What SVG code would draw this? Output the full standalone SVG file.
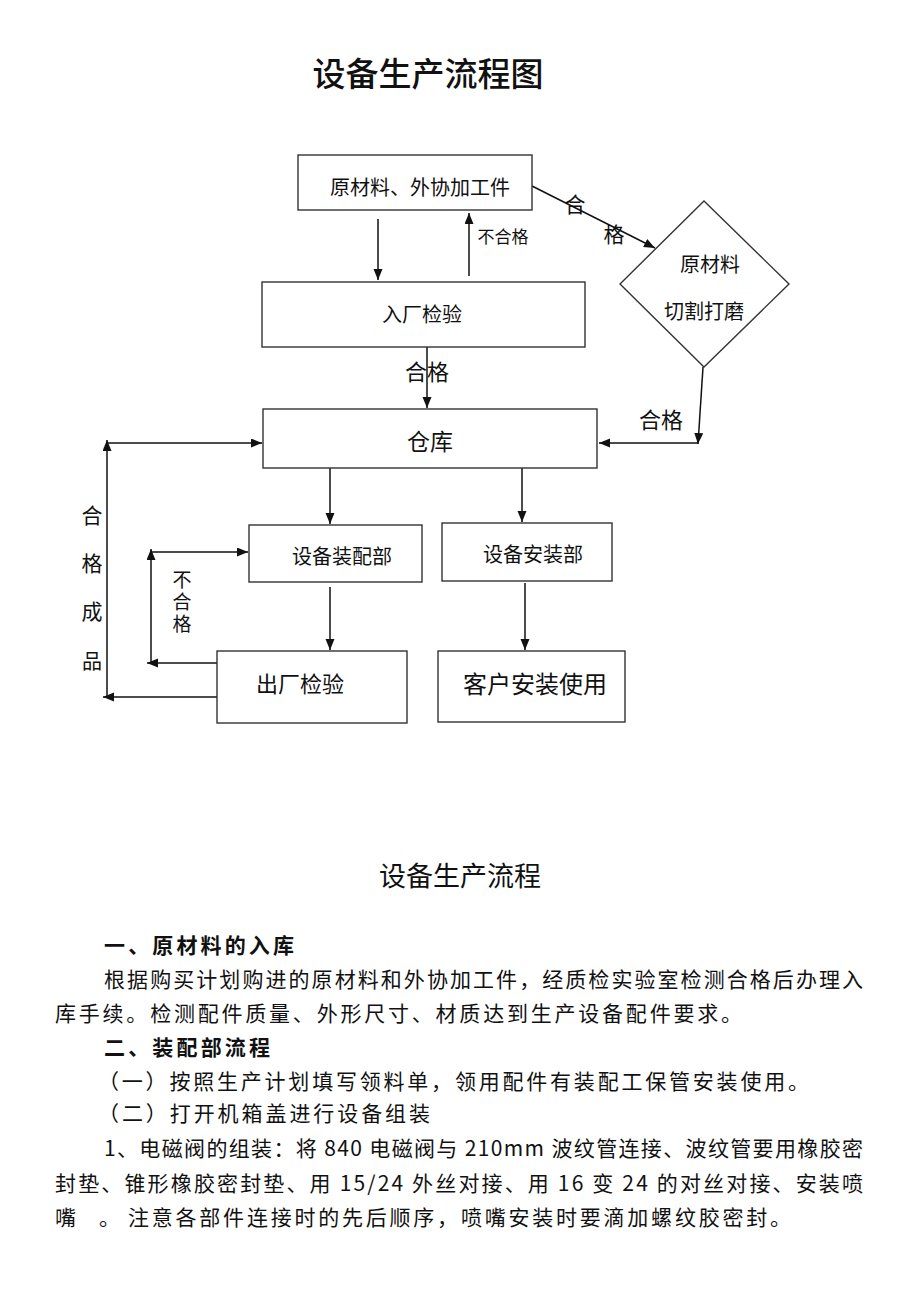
<svg xmlns="http://www.w3.org/2000/svg" width="920" height="1302" viewBox="0 0 920 1302">
<style>
.bg{fill:#fff}
.box{fill:#fff;stroke:#333;stroke-width:1.4}
.ln{fill:none;stroke:#111;stroke-width:1.5}
.t{font-family:"Noto Sans CJK SC","Liberation Sans",sans-serif;fill:#111;text-anchor:middle;dominant-baseline:central}
.v{font-family:"Noto Sans CJK SC","Liberation Sans",sans-serif;fill:#111;writing-mode:vertical-rl;text-anchor:start}
.b{font-family:"Noto Sans CJK SC","Liberation Serif",serif;fill:#111;font-size:21px;dominant-baseline:central}
.h{font-weight:bold}
</style>
<defs>
<marker id="ar" markerUnits="userSpaceOnUse" markerWidth="12" markerHeight="10" refX="11" refY="4.5" orient="auto">
<path d="M0,0 L11,4.5 L0,9 z" fill="#111"/>
</marker>
</defs>
<rect class="bg" x="0" y="0" width="920" height="1302"/>
<text class="t" x="428" y="72" font-size="33" font-weight="500">设备生产流程图</text>

<g id="connectors">
<line class="ln" x1="378" y1="219" x2="378" y2="280" marker-end="url(#ar)"/>
<line class="ln" x1="469" y1="276" x2="469" y2="213" marker-end="url(#ar)"/>
<line class="ln" x1="532" y1="186" x2="655" y2="248" marker-end="url(#ar)"/>
<line class="ln" x1="427" y1="347" x2="427" y2="408" marker-end="url(#ar)"/>
<line class="ln" x1="703" y1="367" x2="698" y2="444" marker-end="url(#ar)"/>
<line class="ln" x1="698" y1="443" x2="599" y2="443" marker-end="url(#ar)"/>
<line class="ln" x1="330" y1="468" x2="330" y2="524" marker-end="url(#ar)"/>
<line class="ln" x1="522" y1="468" x2="522" y2="522" marker-end="url(#ar)"/>
<line class="ln" x1="330" y1="587" x2="330" y2="650" marker-end="url(#ar)"/>
<line class="ln" x1="525" y1="583" x2="525" y2="650" marker-end="url(#ar)"/>
<line class="ln" x1="217" y1="663" x2="147" y2="663" marker-end="url(#ar)"/>
<line class="ln" x1="151" y1="663" x2="151" y2="549" marker-end="url(#ar)"/>
<line class="ln" x1="151" y1="552" x2="248" y2="552" marker-end="url(#ar)"/>
<line class="ln" x1="217" y1="697" x2="103" y2="697" marker-end="url(#ar)"/>
<line class="ln" x1="107" y1="697" x2="107" y2="440" marker-end="url(#ar)"/>
<line class="ln" x1="107" y1="443" x2="262" y2="443" marker-end="url(#ar)"/>
<text class="t" x="503" y="235" font-size="17">不合格</text>
<text class="t" x="575" y="203" font-size="21">合</text>
<text class="t" x="614" y="233" font-size="21">格</text>
<text class="t" x="427" y="370" font-size="22">合格</text>
<text class="t" x="661" y="418" font-size="22">合格</text>
<text class="t" x="92" y="514" font-size="21">合</text>
<text class="t" x="92" y="562" font-size="21">格</text>
<text class="t" x="92" y="610" font-size="21">成</text>
<text class="t" x="92" y="660" font-size="20">品</text>
<text class="v" x="182" y="570" font-size="19" letter-spacing="3">不合格</text>
</g>

<g id="n-raw">
<rect class="box" x="298" y="155" width="234" height="55"/>
<text class="t" x="420" y="186" font-size="20">原材料、外协加工件</text>
</g>
<g id="n-incheck">
<rect class="box" x="262" y="282" width="323" height="65"/>
<text class="t" x="422" y="313" font-size="20">入厂检验</text>
</g>
<g id="n-cut">
<polygon class="box" points="704,201 789,284 704,367 620,284"/>
<text class="t" x="710" y="263" font-size="20">原材料</text>
<text class="t" x="704" y="310" font-size="20">切割打磨</text>
</g>
<g id="n-store">
<rect class="box" x="263" y="409" width="334" height="59"/>
<text class="t" x="430" y="440" font-size="23">仓库</text>
</g>
<g id="n-assembly">
<rect class="box" x="249" y="525" width="173" height="57"/>
<text class="t" x="342" y="555" font-size="20">设备装配部</text>
</g>
<g id="n-install">
<rect class="box" x="442" y="523" width="170" height="58"/>
<text class="t" x="533" y="553" font-size="20">设备安装部</text>
</g>
<g id="n-outcheck">
<rect class="box" x="217" y="651" width="190" height="72"/>
<text class="t" x="300" y="682" font-size="22">出厂检验</text>
</g>
<g id="n-customer">
<rect class="box" x="438" y="651" width="187" height="71"/>
<text class="t" x="535" y="682" font-size="24">客户安装使用</text>
</g>

<g id="body-text">
<text class="t" x="460" y="874" font-size="27">设备生产流程</text>
<text class="b h" x="104" y="944" textLength="190" lengthAdjust="spacing">一、原材料的入库</text>
<text class="b" x="104" y="978" textLength="759" lengthAdjust="spacing">根据购买计划购进的原材料和外协加工件，经质检实验室检测合格后办理入</text>
<text class="b" x="55" y="1012" textLength="687" lengthAdjust="spacing">库手续。检测配件质量、外形尺寸、材质达到生产设备配件要求。</text>
<text class="b h" x="104" y="1046" textLength="166" lengthAdjust="spacing">二、装配部流程</text>
<text class="b" x="98" y="1080" textLength="711" lengthAdjust="spacing">（一）按照生产计划填写领料单，领用配件有装配工保管安装使用。</text>
<text class="b" x="98" y="1112" textLength="332" lengthAdjust="spacing">（二）打开机箱盖进行设备组装</text>
<text class="b" x="104" y="1147" textLength="759" lengthAdjust="spacing">1、电磁阀的组装：将 840 电磁阀与 210mm 波纹管连接、波纹管要用橡胶密</text>
<text class="b" x="55" y="1182" textLength="808" lengthAdjust="spacing">封垫、锥形橡胶密封垫、用 15/24 外丝对接、用 16 变 24 的对丝对接、安装喷</text>
<text class="b" x="55" y="1216" textLength="65" lengthAdjust="spacing">嘴 。</text>
<text class="b" x="128" y="1216" textLength="663" lengthAdjust="spacing">注意各部件连接时的先后顺序，喷嘴安装时要滴加螺纹胶密封。</text>
</g>
</svg>
